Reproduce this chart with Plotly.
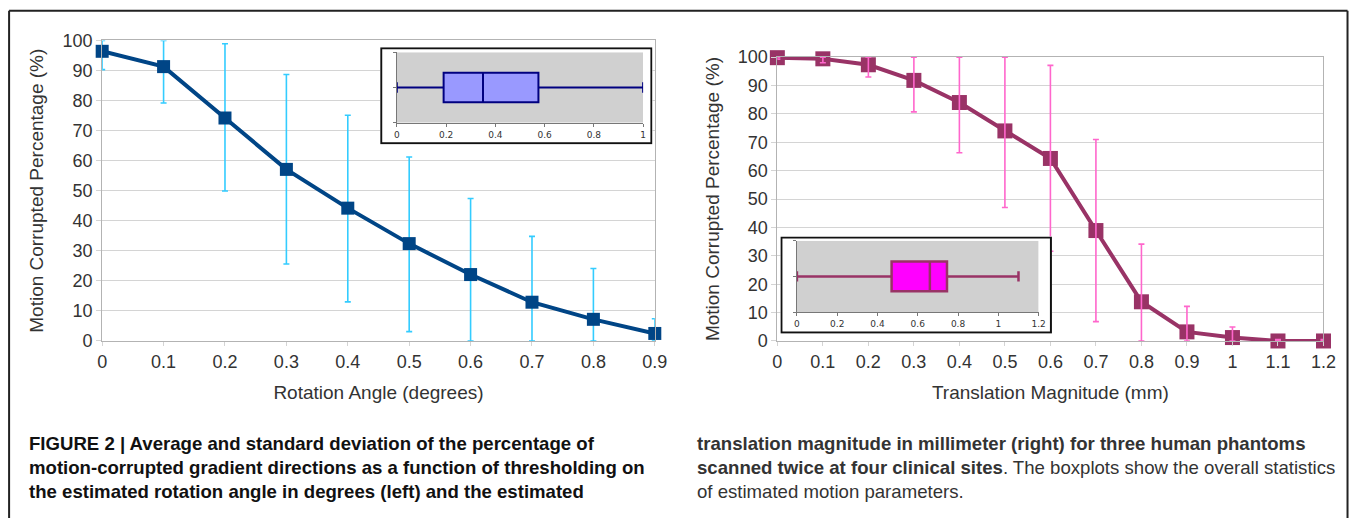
import plotly.graph_objects as go

# Observed mapping of figure pixels onto the captured picture:
#   picture_x = figure_x * SX + OX,  picture_y = figure_y * SY + OY
SX, OX = 0.988, 4.4
SY, OY = 0.966, 7.7
W, H = 1362, 528

# ---------------- data ----------------
rot_x = [0, 0.1, 0.2, 0.3, 0.4, 0.5, 0.6, 0.7, 0.8, 0.9]
rot_mean = [96.4, 91.3, 74.2, 57.1, 44.2, 32.4, 22.1, 12.9, 7.2, 2.5]
rot_upper = [100, 100, 98.9, 88.7, 75.1, 61.2, 47.4, 34.8, 24.1, 7.4]
rot_lower = [90.3, 79.2, 49.9, 25.6, 13.0, 3.1, 0, 0, 0, 0]

tr_x = [0, 0.1, 0.2, 0.3, 0.4, 0.5, 0.6, 0.7, 0.8, 0.9, 1.0, 1.1, 1.2]
tr_mean = [99.8, 99.4, 97.3, 91.8, 84.0, 74.0, 64.3, 38.9, 13.8, 3.2, 1.2, 0, 0]
tr_upper = [100, 100, 100, 100, 100, 100, 97.1, 71.0, 34.1, 12.2, 4.9, 0.5, 0.5]
tr_lower = [99.3, 98.0, 93.0, 80.7, 66.3, 47.0, 31.6, 6.8, 0, 0, 0, 0, 0]

# boxplot statistics (lower fence, q1, median, q3, upper fence)
rot_box = [0.0, 0.19, 0.35, 0.575, 1.0]
tr_box = [0.0, 0.47, 0.66, 0.745, 1.1]

inset_rot_ticks = [0, 0.2, 0.4, 0.6, 0.8, 1]
inset_tr_ticks = [0, 0.2, 0.4, 0.6, 0.8, 1, 1.2]
rot_ticks = [0, 0.1, 0.2, 0.3, 0.4, 0.5, 0.6, 0.7, 0.8, 0.9]
tr_ticks = [0, 0.1, 0.2, 0.3, 0.4, 0.5, 0.6, 0.7, 0.8, 0.9, 1, 1.1, 1.2]
y_ticks = list(range(0, 101, 10))

caption_left = [
    "<b>FIGURE 2 | Average and standard deviation of the percentage of</b>",
    "<b>motion-corrupted gradient directions as a function of thresholding on</b>",
    "<b>the estimated rotation angle in degrees (left) and the estimated</b>",
]
caption_right = [
    "<b>translation magnitude in millimeter (right) for three human phantoms</b>",
    "<b>scanned twice at four clinical sites</b>. The boxplots show the overall statistics",
    "of estimated motion parameters.",
]


def fx(t):
    return ((t - OX) / SX) / W


def fy(t):
    return 1 - ((t - OY) / SY) / H


def px_x(a, b):
    return [fx(a), fx(b)]


def px_y(top, bottom):
    return [fy(bottom), fy(top)]


FONT = "Liberation Sans, Arial, sans-serif"
CAPFONT = "Liberation Sans, Arial, sans-serif"
GRID = "#d4d4d4"
AXL = "#b3b3b3"
TXT = "#333333"

fig = go.Figure()

# ---- left main chart ----
fig.add_trace(go.Scatter(
    x=rot_x, y=rot_mean, mode="lines+markers",
    line=dict(color="#004586", width=4),
    marker=dict(symbol="square", size=13, color="#004586"),
    error_y=dict(type="data", symmetric=False,
                 array=[u - m for u, m in zip(rot_upper, rot_mean)],
                 arrayminus=[m - l for m, l in zip(rot_mean, rot_lower)],
                 color="#33ccff", thickness=1.6, width=3),
    cliponaxis=False, xaxis="x", yaxis="y", hoverinfo="skip", showlegend=False))

# ---- right main chart ----
fig.add_trace(go.Scatter(
    x=tr_x, y=tr_mean, mode="lines+markers",
    line=dict(color="#993366", width=4),
    marker=dict(symbol="square", size=15, color="#993366"),
    cliponaxis=False, xaxis="x2", yaxis="y2", hoverinfo="skip", showlegend=False))
fig.add_trace(go.Scatter(
    x=tr_x, y=tr_mean, mode="markers",
    marker=dict(size=1, color="rgba(0,0,0,0)"),
    error_y=dict(type="data", symmetric=False,
                 array=[u - m for u, m in zip(tr_upper, tr_mean)],
                 arrayminus=[m - l for m, l in zip(tr_mean, tr_lower)],
                 color="#ff66cc", thickness=1.6, width=3),
    cliponaxis=False, xaxis="x2", yaxis="y2", hoverinfo="skip", showlegend=False))

# ---- inset frames (empty subplots carrying the white framed panel) ----
for ax in ("3", "5"):
    fig.add_trace(go.Scatter(x=[], y=[], xaxis="x" + ax, yaxis="y" + ax,
                             hoverinfo="skip", showlegend=False))

# ---- inset boxplots ----
fig.add_trace(go.Box(
    orientation="h", y=[0.5],
    lowerfence=[rot_box[0]], q1=[rot_box[1]], median=[rot_box[2]],
    q3=[rot_box[3]], upperfence=[rot_box[4]],
    fillcolor="#9999ff", line=dict(color="#000080", width=2),
    width=0.42, whiskerwidth=0.35, boxpoints=False,
    xaxis="x4", yaxis="y4", hoverinfo="skip", showlegend=False))
fig.add_trace(go.Box(
    orientation="h", y=[0.5],
    lowerfence=[tr_box[0]], q1=[tr_box[1]], median=[tr_box[2]],
    q3=[tr_box[3]], upperfence=[tr_box[4]],
    fillcolor="#ff00ff", line=dict(color="#993366", width=2.5),
    width=0.42, whiskerwidth=0.35, boxpoints=False,
    xaxis="x6", yaxis="y6", hoverinfo="skip", showlegend=False))

main_y = dict(range=[0, 100], tickvals=y_ticks, showgrid=True, gridcolor=GRID, gridwidth=1,
              showline=True, linecolor=AXL, mirror=True, ticks="outside", ticklen=5,
              tickcolor=GRID, tickfont=dict(family=FONT, size=18, color=TXT),
              zeroline=False,
              title=dict(text="Motion Corrupted Percentage (%)",
                         font=dict(family=FONT, size=19, color=TXT), standoff=13))
main_x = dict(showgrid=False, showline=True, linecolor=AXL, mirror=True, ticks="outside",
              ticklen=4, tickcolor=GRID, tickfont=dict(family=FONT, size=18, color=TXT),
              zeroline=False)

inset_x = dict(showgrid=False, showline=True, linecolor="#777777", ticks="outside", ticklen=3,
               tickcolor="#777777", tickfont=dict(family="DejaVu Sans, sans-serif", size=9, color=TXT),
               zeroline=False, fixedrange=True)
inset_y = dict(range=[0, 1], showgrid=False, showline=True, linecolor="#777777", ticks="outside",
               ticklen=3, tickcolor="#777777", tickvals=[0, 0.5, 1], showticklabels=False,
               zeroline=False, fixedrange=True)
hidden = dict(visible=False, range=[0, 1], fixedrange=True)

fig.update_layout(
    width=W, height=H,
    margin=dict(l=0, r=0, t=0, b=0),
    paper_bgcolor="white", plot_bgcolor="white",
    hovermode=False, showlegend=False,
    xaxis=dict(main_x, domain=px_x(101.7, 655), range=[0, 0.9], tickvals=rot_ticks,
               ticktext=[f"{v:g}" for v in rot_ticks], anchor="y",
               title=dict(text="Rotation Angle (degrees)", font=dict(family=FONT, size=19, color=TXT),
                          standoff=15)),
    yaxis=dict(main_y, domain=px_y(38.3, 340), anchor="x"),
    xaxis2=dict(main_x, domain=px_x(777.7, 1324.5), range=[0, 1.2], tickvals=tr_ticks,
                ticktext=[f"{v:g}" for v in tr_ticks], anchor="y2",
                title=dict(text="Translation Magnitude (mm)", font=dict(family=FONT, size=19, color=TXT),
                           standoff=15)),
    yaxis2=dict(main_y, domain=px_y(55, 340), anchor="x2"),
    xaxis3=dict(hidden, domain=px_x(380, 652.7), anchor="y3"),
    yaxis3=dict(hidden, domain=px_y(45, 142.7), anchor="x3"),
    xaxis4=dict(inset_x, domain=px_x(396.7, 643.3), range=[0, 1], tickvals=inset_rot_ticks,
                ticktext=[f"{v:g}" for v in inset_rot_ticks], anchor="y4"),
    yaxis4=dict(inset_y, domain=px_y(50, 121), anchor="x4"),
    xaxis5=dict(hidden, domain=px_x(780.7, 1052.7), anchor="y5"),
    yaxis5=dict(hidden, domain=px_y(235, 332.7), anchor="x5"),
    xaxis6=dict(inset_x, domain=px_x(797.3, 1039.3), range=[0, 1.2], tickvals=inset_tr_ticks,
                ticktext=[f"{v:g}" for v in inset_tr_ticks], anchor="y6"),
    yaxis6=dict(inset_y, domain=px_y(239.3, 311), anchor="x6"),
)

shapes = []
# inset framed white panels and grey plot backgrounds
for fxr, fyr, gx, gy, gxr in (("x3", "y3", "x4", "y4", 1.0), ("x5", "y5", "x6", "y6", 1.2)):
    shapes.append(dict(type="rect", xref=fxr, yref=fyr, x0=0.004, x1=0.996, y0=0.012, y1=0.988,
                       fillcolor="white", line=dict(color="#111111", width=2), layer="below"))
    shapes.append(dict(type="rect", xref=gx, yref=gy, x0=0, x1=gxr, y0=0, y1=1,
                       fillcolor="#d0d0d0", line=dict(width=0), layer="below"))
# outer figure frame (top, left, right edges)
frame = dict(color="#222222", width=2)
right_edge = min(fx(1352), 1 - 1.5 / W)
left_edge = max(fx(8.5), 1.5 / W)
shapes.append(dict(type="line", xref="paper", yref="paper", x0=left_edge, x1=right_edge,
                   y0=fy(8.5), y1=fy(8.5), line=frame, layer="above"))
shapes.append(dict(type="line", xref="paper", yref="paper", x0=left_edge, x1=left_edge,
                   y0=0, y1=fy(8.5), line=frame, layer="above"))
shapes.append(dict(type="line", xref="paper", yref="paper", x0=right_edge, x1=right_edge,
                   y0=0, y1=fy(8.5), line=frame, layer="above"))
fig.update_layout(shapes=shapes)

annotations = []
for i, t in enumerate(caption_left):
    annotations.append(dict(text=t, xref="paper", yref="paper", x=fx(26), y=fy(443 + 24 * i),
                            xanchor="left", yanchor="middle", showarrow=False,
                            font=dict(family=CAPFONT, size=18.6, color="#111111")))
for i, t in enumerate(caption_right):
    annotations.append(dict(text=t, xref="paper", yref="paper", x=fx(695), y=fy(443 + 24 * i),
                            xanchor="left", yanchor="middle", showarrow=False,
                            font=dict(family=CAPFONT, size=18.6, color="#333333")))
fig.update_layout(annotations=annotations)

fig.write_html("out.html")
